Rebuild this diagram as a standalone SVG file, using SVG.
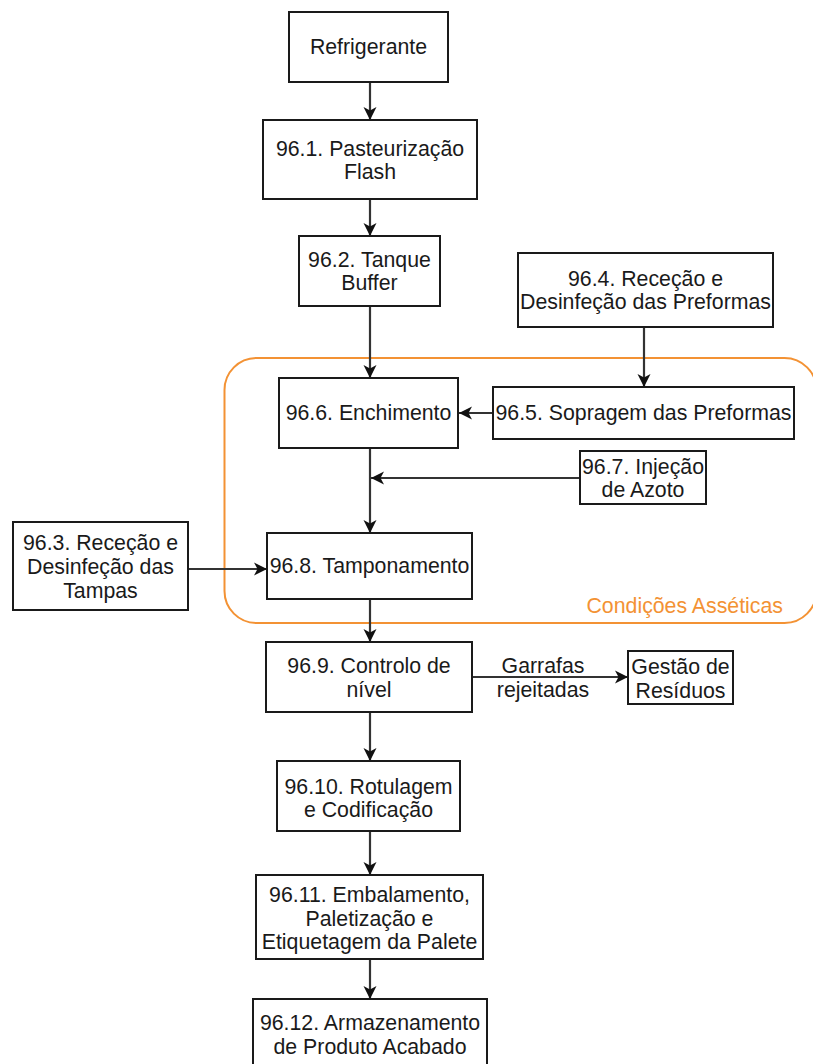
<svg xmlns="http://www.w3.org/2000/svg" width="813" height="1064" viewBox="0 0 813 1064">
  <defs>
    <marker id="arrow" markerUnits="userSpaceOnUse" markerWidth="16" markerHeight="14" refX="13" refY="7" orient="auto">
      <path d="M0,0.5 L13,7 L0,13.5 L3.5,7 Z" fill="#111111"/>
    </marker>
    <style>
      .box { fill: #ffffff; stroke: #1a1a1a; stroke-width: 2; }
      .lbl { font-family: "Liberation Sans", Arial, sans-serif; font-size: 21.3px; fill: #1a1a1a; text-anchor: middle; }
      .edge { fill: none; stroke: #333333; stroke-width: 2.2; marker-end: url(#arrow); }
      .zone { fill: none; stroke: #F39234; stroke-width: 2; }
      .zone-lbl { font-family: "Liberation Sans", Arial, sans-serif; font-size: 21.3px; fill: #F39234; text-anchor: end; }
    </style>
  </defs>
  <rect width="813" height="1064" fill="#ffffff"/>

  <!-- aseptic zone -->
  <g id="zone-asseptic">
    <rect class="zone" x="224.5" y="358" width="592" height="265" rx="32" ry="32"/>
    <text class="zone-lbl" x="783" y="613">Condições Asséticas</text>
  </g>

  <!-- connectors -->
  <g id="connectors">
    <path class="edge" d="M370,82 V120"/>
    <path class="edge" d="M370,199 V236"/>
    <path class="edge" d="M370,306 V378"/>
    <path class="edge" d="M644,327 V387"/>
    <path class="edge" d="M493,413 H459"/>
    <path class="edge" d="M580,478 H371"/>
    <path class="edge" d="M370,448 V533"/>
    <path class="edge" d="M188,569 H267"/>
    <path class="edge" d="M370,599 V642"/>
    <path class="edge" d="M472,677 H628"/>
    <path class="edge" d="M370,712 V761"/>
    <path class="edge" d="M370,831 V875"/>
    <path class="edge" d="M370,959 V999"/>
    <text class="lbl" x="543" y="673">Garrafas</text>
    <text class="lbl" x="543" y="697">rejeitadas</text>
  </g>

  <g id="n-refrigerante">
    <rect class="box" x="289" y="12" width="159" height="70"/>
    <text class="lbl" x="368.5" y="54">Refrigerante</text>
  </g>

  <g id="n-96-1">
    <rect class="box" x="263" y="120" width="214" height="79"/>
    <text class="lbl" x="370" y="156">96.1. Pasteurização</text>
    <text class="lbl" x="370" y="179">Flash</text>
  </g>

  <g id="n-96-2">
    <rect class="box" x="299" y="236" width="141" height="70"/>
    <text class="lbl" x="369.5" y="266.5">96.2. Tanque</text>
    <text class="lbl" x="369.5" y="289.5">Buffer</text>
  </g>

  <g id="n-96-4">
    <rect class="box" x="518" y="253" width="255" height="74"/>
    <text class="lbl" x="645.5" y="286">96.4. Receção e</text>
    <text class="lbl" x="645.5" y="309">Desinfeção das Preformas</text>
  </g>

  <g id="n-96-5">
    <rect class="box" x="493" y="387" width="301" height="52"/>
    <text class="lbl" x="643.5" y="420">96.5. Sopragem das Preformas</text>
  </g>

  <g id="n-96-6">
    <rect class="box" x="279" y="378" width="179" height="70"/>
    <text class="lbl" x="368.5" y="420">96.6. Enchimento</text>
  </g>

  <g id="n-96-7">
    <rect class="box" x="580" y="451" width="126" height="53"/>
    <text class="lbl" x="643" y="473.5">96.7. Injeção</text>
    <text class="lbl" x="643" y="496.5">de Azoto</text>
  </g>

  <g id="n-96-3">
    <rect class="box" x="13" y="522" width="175" height="88"/>
    <text class="lbl" x="100.5" y="550">96.3. Receção e</text>
    <text class="lbl" x="100.5" y="574">Desinfeção das</text>
    <text class="lbl" x="100.5" y="598">Tampas</text>
  </g>

  <g id="n-96-8">
    <rect class="box" x="267" y="533" width="205" height="66"/>
    <text class="lbl" x="369.5" y="573">96.8. Tamponamento</text>
  </g>

  <g id="n-96-9">
    <rect class="box" x="266" y="642" width="206" height="70"/>
    <text class="lbl" x="369" y="673">96.9. Controlo de</text>
    <text class="lbl" x="369" y="697">nível</text>
  </g>

  <g id="n-residuos">
    <rect class="box" x="628" y="651" width="105" height="53"/>
    <text class="lbl" x="680.5" y="673.5">Gestão de</text>
    <text class="lbl" x="680.5" y="697.5">Resíduos</text>
  </g>

  <g id="n-96-10">
    <rect class="box" x="277" y="761" width="183" height="70"/>
    <text class="lbl" x="368.5" y="793.5">96.10. Rotulagem</text>
    <text class="lbl" x="368.5" y="817">e Codificação</text>
  </g>

  <g id="n-96-11">
    <rect class="box" x="256" y="875" width="227" height="84"/>
    <text class="lbl" x="369.5" y="902">96.11. Embalamento,</text>
    <text class="lbl" x="369.5" y="926">Paletização e</text>
    <text class="lbl" x="369.5" y="949">Etiquetagem da Palete</text>
  </g>

  <g id="n-96-12">
    <rect class="box" x="253" y="999" width="234" height="72"/>
    <text class="lbl" x="370" y="1030">96.12. Armazenamento</text>
    <text class="lbl" x="370" y="1054">de Produto Acabado</text>
  </g>
</svg>
